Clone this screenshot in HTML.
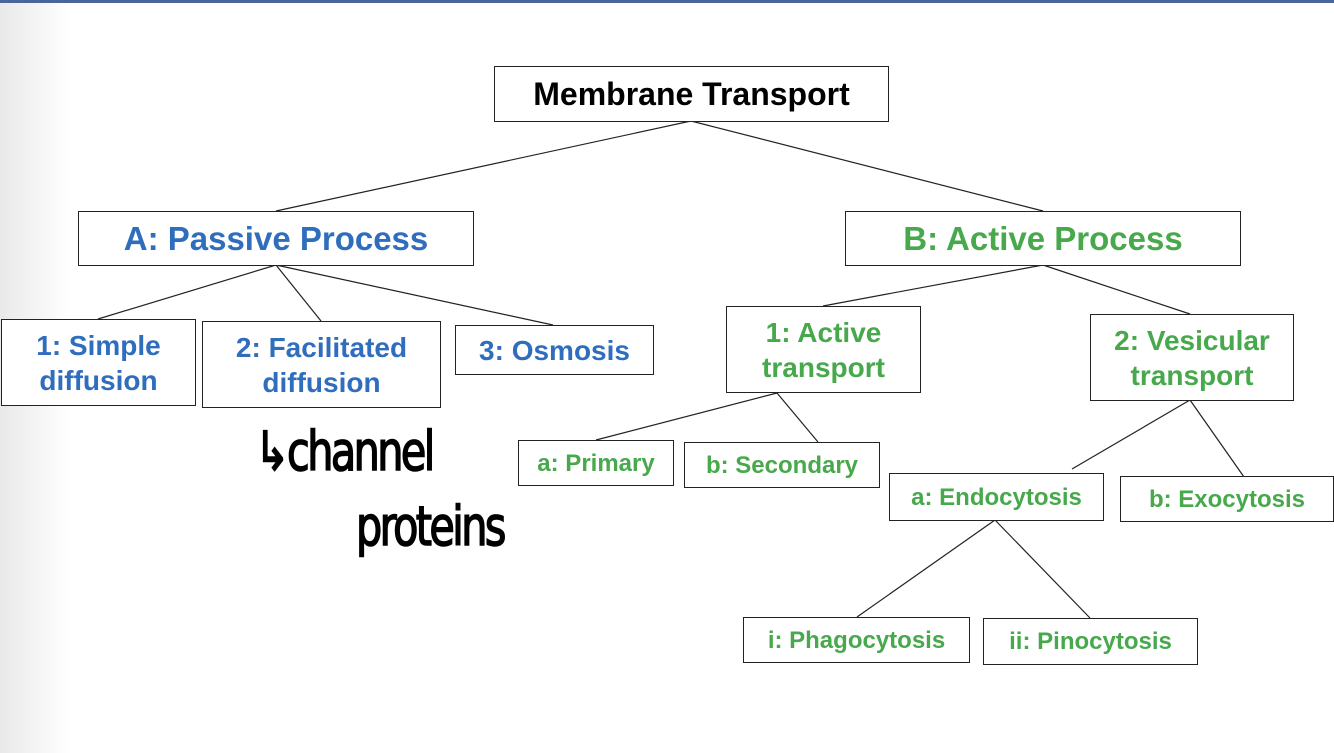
<!DOCTYPE html>
<html><head><meta charset="utf-8"><style>
html,body{margin:0;padding:0}
body{width:1334px;height:753px;position:relative;overflow:hidden;background:#fff;font-family:"Liberation Sans",sans-serif}
.bg{position:absolute;left:0;top:0;width:70px;height:753px;background:linear-gradient(to right,#e9e9e9,#fff)}
.top{position:absolute;left:0;top:0;width:1334px;height:3px;background:#4a659a}
.b{position:absolute;box-sizing:border-box;border:1.5px solid #222;background:#fff;display:flex;align-items:center;justify-content:center;text-align:center;font-weight:bold;line-height:35px;white-space:nowrap}
.bl{color:#2f6dbd}.gr{color:#47a84c}
svg{position:absolute;left:0;top:0}
.hw{position:absolute;font-family:"DejaVu Sans Condensed","Liberation Sans Narrow",sans-serif;font-size:54px;color:#000;letter-spacing:-3px;transform:scaleX(0.85);transform-origin:left top;line-height:1;-webkit-text-stroke:1.5px #000}
</style></head><body>
<div class="bg"></div><div class="top"></div>
<svg width="1334" height="753"><g stroke="#222" stroke-width="1.2" fill="none">
<line x1="691" y1="121" x2="276" y2="211"/><line x1="691" y1="121" x2="1043" y2="211"/>
<line x1="276" y1="265" x2="98" y2="319"/><line x1="276" y1="265" x2="321" y2="321"/><line x1="276" y1="265" x2="553" y2="325"/>
<line x1="1043" y1="265" x2="823" y2="306"/><line x1="1043" y1="265" x2="1190" y2="314"/>
<line x1="777" y1="393" x2="596" y2="440"/><line x1="777" y1="393" x2="818" y2="442"/>
<line x1="1190" y1="400" x2="1072" y2="469"/><line x1="1190" y1="400" x2="1244" y2="477"/>
<line x1="995" y1="520" x2="857" y2="617"/><line x1="995" y1="520" x2="1090" y2="618"/>
</g></svg>
<div class="b" style="left:494px;top:66px;width:395px;height:56px;font-size:32px;color:#000">Membrane Transport</div>
<div class="b bl" style="left:78px;top:211px;width:396px;height:55px;font-size:33px">A: Passive Process</div>
<div class="b gr" style="left:845px;top:211px;width:396px;height:55px;font-size:33px">B: Active Process</div>
<div class="b bl" style="left:1px;top:319px;width:195px;height:87px;font-size:28px">1: Simple<br>diffusion</div>
<div class="b bl" style="left:202px;top:321px;width:239px;height:87px;font-size:28px">2: Facilitated<br>diffusion</div>
<div class="b bl" style="left:455px;top:325px;width:199px;height:50px;font-size:28px">3: Osmosis</div>
<div class="b gr" style="left:726px;top:306px;width:195px;height:87px;font-size:28px">1: Active<br>transport</div>
<div class="b gr" style="left:1090px;top:314px;width:204px;height:87px;font-size:28px">2: Vesicular<br>transport</div>
<div class="b gr" style="left:518px;top:440px;width:156px;height:46px;font-size:24px">a: Primary</div>
<div class="b gr" style="left:684px;top:442px;width:196px;height:46px;font-size:24px">b: Secondary</div>
<div class="b gr" style="left:889px;top:473px;width:215px;height:48px;font-size:24px">a: Endocytosis</div>
<div class="b gr" style="left:1120px;top:476px;width:214px;height:46px;font-size:24px">b: Exocytosis</div>
<div class="b gr" style="left:743px;top:617px;width:227px;height:46px;font-size:24px">i: Phagocytosis</div>
<div class="b gr" style="left:983px;top:618px;width:215px;height:47px;font-size:24px">ii: Pinocytosis</div>
<div class="hw" style="left:255px;top:425px">↳channel</div>
<div class="hw" style="left:356px;top:500px">proteins</div>
</body></html>
